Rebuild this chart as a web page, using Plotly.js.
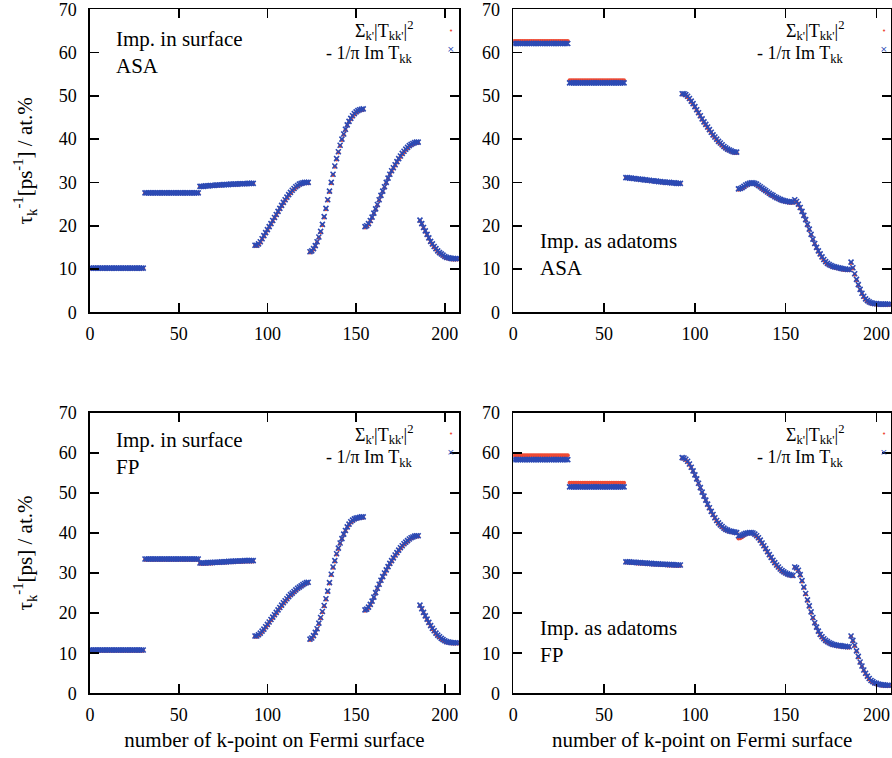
<!DOCTYPE html>
<html>
<head>
<meta charset="utf-8">
<script src="https://cdn.plot.ly/plotly-3.0.1.min.js"></script>
<style>html,body{margin:0;padding:0;background:#fff;}#chart{width:892px;height:758px;}</style>
</head>
<body>
<div id="chart"></div>
<script>
// ---------------- DATA ----------------
// k-point index on the Fermi surface: 0 .. 207
const N_K = 208;

const xTicks = [0, 50, 100, 150, 200];
const yTicks = [0, 10, 20, 30, 40, 50, 60, 70];

const seriesNames = ["Σ<sub>k'</sub>|T<sub>kk'</sub>|<sup>2</sup>", "- 1/π Im T<sub>kk</sub>"];
const panelLabels = ["Imp. in surface<br>ASA", "Imp. as adatoms<br>ASA", "Imp. in surface<br>FP", "Imp. as adatoms<br>FP"];
const yTitles = ["τ<sub>k</sub><sup>-1</sup>[ps<sup>-1</sup>] / at.%", "τ<sub>k</sub><sup>-1</sup>[ps] / at.%"];
const xTitle = "number of k-point on Fermi surface";

// Top-left: Imp. in surface, ASA
const tlBlue = [
10.2,10.2,10.2,10.2,10.2,10.2,10.2,10.2,10.2,10.2,10.2,10.2,10.2,10.2,10.2,10.2,10.2,10.2,10.2,10.2,10.2,10.2,10.2,10.2,10.2,10.2,10.2,10.2,10.2,10.2,10.2,
27.6,27.6,27.6,27.6,27.6,27.6,27.6,27.6,27.6,27.6,27.6,27.6,27.6,27.6,27.6,27.6,27.6,27.6,27.6,27.6,27.6,27.6,27.6,27.6,27.6,27.6,27.6,27.6,27.6,27.6,27.6,
29.1,29.1,29.1,29.2,29.2,29.2,29.3,29.3,29.3,29.4,29.4,29.4,29.4,29.5,29.5,29.5,29.5,29.6,29.6,29.6,29.6,29.6,29.7,29.7,29.7,29.7,29.7,29.8,29.8,29.8,29.8,
15.5,15.5,15.8,16.3,17.0,17.7,18.4,19.1,19.8,20.5,21.2,21.9,22.6,23.3,24.0,24.7,25.4,26.0,26.6,27.2,27.7,28.2,28.6,29.0,29.3,29.6,29.8,29.9,30.0,30.0,30.0,
14.0,14.2,14.7,15.4,16.3,17.4,18.7,20.3,22.1,24.0,26.0,28.0,30.0,31.9,33.8,35.5,37.1,38.6,40.0,41.2,42.3,43.3,44.1,44.8,45.4,45.9,46.3,46.6,46.8,46.9,47.0,
19.8,20.0,20.5,21.2,22.0,22.9,23.9,24.9,26.0,27.0,28.0,29.0,30.0,31.0,31.9,32.7,33.4,34.1,34.8,35.5,36.1,36.7,37.2,37.7,38.1,38.5,38.8,39.0,39.2,39.3,39.3,
21.3,20.5,19.6,18.8,18.0,17.2,16.4,15.8,15.2,14.7,14.2,13.8,13.5,13.2,12.9,12.7,12.6,12.5,12.4,12.4,12.4,12.4
];
const tlRed = [
10.1,10.1,10.1,10.1,10.1,10.1,10.1,10.1,10.1,10.1,10.1,10.1,10.1,10.1,10.1,10.1,10.1,10.1,10.1,10.1,10.1,10.1,10.1,10.1,10.1,10.1,10.1,10.1,10.1,10.1,10.1,
27.5,27.5,27.5,27.5,27.5,27.5,27.5,27.5,27.5,27.5,27.5,27.5,27.5,27.5,27.5,27.5,27.5,27.5,27.5,27.5,27.5,27.5,27.5,27.5,27.5,27.5,27.5,27.5,27.5,27.5,27.5,
29.0,29.0,29.0,29.1,29.1,29.1,29.2,29.2,29.2,29.3,29.3,29.3,29.3,29.4,29.4,29.4,29.4,29.5,29.5,29.5,29.5,29.5,29.6,29.6,29.6,29.6,29.6,29.7,29.7,29.7,29.7,
15.3,15.3,15.6,16.1,16.8,17.5,18.2,18.9,19.6,20.3,21.0,21.7,22.4,23.1,23.8,24.5,25.2,25.8,26.4,27.0,27.5,28.0,28.4,28.8,29.1,29.4,29.6,29.7,29.8,29.8,29.8,
13.8,14.0,14.5,15.2,16.1,17.2,18.5,20.1,21.9,23.8,25.8,27.8,29.8,31.7,33.6,35.3,36.9,38.4,39.8,41.0,42.1,43.1,43.9,44.6,45.2,45.7,46.1,46.4,46.6,46.7,46.8,
19.6,19.8,20.3,21.0,21.8,22.7,23.7,24.7,25.8,26.8,27.8,28.8,29.8,30.8,31.7,32.5,33.2,33.9,34.6,35.3,35.9,36.5,37.0,37.5,37.9,38.3,38.6,38.8,39.0,39.1,39.1,
21.1,20.3,19.4,18.6,17.8,17.0,16.2,15.6,15.0,14.5,14.0,13.6,13.3,13.0,12.7,12.5,12.4,12.3,12.2,12.2,12.2,12.2
];

// Top-right: Imp. as adatoms, ASA
const trBlue = [
62.1,62.1,62.1,62.1,62.1,62.1,62.1,62.1,62.1,62.1,62.1,62.1,62.1,62.1,62.1,62.1,62.1,62.1,62.1,62.1,62.1,62.1,62.1,62.1,62.1,62.1,62.1,62.1,62.1,62.1,62.1,
53.0,53.0,53.0,53.0,53.0,53.0,53.0,53.0,53.0,53.0,53.0,53.0,53.0,53.0,53.0,53.0,53.0,53.0,53.0,53.0,53.0,53.0,53.0,53.0,53.0,53.0,53.0,53.0,53.0,53.0,53.0,
31.1,31.1,31.0,31.0,30.9,30.9,30.8,30.8,30.7,30.7,30.6,30.6,30.5,30.5,30.4,30.4,30.3,30.3,30.2,30.2,30.1,30.1,30.0,30.0,30.0,29.9,29.9,29.9,29.8,29.8,29.8,
50.5,50.5,50.3,49.9,49.4,48.8,48.2,47.5,46.8,46.1,45.4,44.7,44.0,43.4,42.8,42.2,41.6,41.0,40.5,40.0,39.5,39.1,38.7,38.3,38.0,37.7,37.5,37.3,37.1,37.0,37.0,
28.5,28.6,28.8,29.1,29.4,29.6,29.8,29.9,29.9,29.8,29.6,29.3,29.0,28.7,28.4,28.1,27.8,27.5,27.2,27.0,26.7,26.5,26.3,26.1,25.9,25.8,25.7,25.6,25.5,25.5,25.5,
26.0,25.6,25.0,24.2,23.3,22.4,21.4,20.3,19.2,18.0,16.9,15.9,15.0,14.2,13.5,12.8,12.2,11.7,11.3,11.0,10.8,10.6,10.5,10.4,10.3,10.2,10.1,10.0,10.0,9.9,9.9,
11.6,10.3,8.9,7.6,6.4,5.3,4.4,3.7,3.1,2.7,2.4,2.2,2.1,2.0,2.0,1.9,1.9,1.9,1.9,1.9,1.9,1.9
];
const trRed = [
62.7,62.7,62.7,62.7,62.7,62.7,62.7,62.7,62.7,62.7,62.7,62.7,62.7,62.7,62.7,62.7,62.7,62.7,62.7,62.7,62.7,62.7,62.7,62.7,62.7,62.7,62.7,62.7,62.7,62.7,62.7,
53.6,53.6,53.6,53.6,53.6,53.6,53.6,53.6,53.6,53.6,53.6,53.6,53.6,53.6,53.6,53.6,53.6,53.6,53.6,53.6,53.6,53.6,53.6,53.6,53.6,53.6,53.6,53.6,53.6,53.6,53.6,
31.0,31.0,30.9,30.9,30.8,30.8,30.7,30.7,30.6,30.6,30.5,30.5,30.4,30.4,30.3,30.3,30.2,30.2,30.1,30.1,30.0,30.0,29.9,29.9,29.9,29.8,29.8,29.8,29.7,29.7,29.7,
50.3,50.3,50.1,49.7,49.2,48.6,48.0,47.3,46.6,45.9,45.2,44.5,43.8,43.2,42.6,42.0,41.4,40.8,40.3,39.8,39.3,38.9,38.5,38.1,37.8,37.5,37.3,37.1,36.9,36.8,36.8,
28.3,28.4,28.6,28.9,29.2,29.4,29.6,29.7,29.7,29.6,29.4,29.1,28.8,28.5,28.2,27.9,27.6,27.3,27.0,26.8,26.5,26.3,26.1,25.9,25.7,25.6,25.5,25.4,25.3,25.3,25.3,
25.8,25.4,24.8,24.0,23.1,22.2,21.2,20.1,19.0,17.8,16.7,15.7,14.8,14.0,13.3,12.6,12.0,11.5,11.1,10.8,10.6,10.4,10.3,10.2,10.1,10.0,9.9,9.8,9.8,9.7,9.7,
11.4,10.1,8.7,7.4,6.2,5.1,4.2,3.5,2.9,2.5,2.2,2.0,1.9,1.8,1.8,1.7,1.7,1.7,1.7,1.7,1.7,1.7
];

// Bottom-left: Imp. in surface, FP
const blBlue = [
10.8,10.8,10.8,10.8,10.8,10.8,10.8,10.8,10.8,10.8,10.8,10.8,10.8,10.8,10.8,10.8,10.8,10.8,10.8,10.8,10.8,10.8,10.8,10.8,10.8,10.8,10.8,10.8,10.8,10.8,10.8,
33.5,33.5,33.5,33.5,33.5,33.5,33.5,33.5,33.5,33.5,33.5,33.5,33.5,33.5,33.5,33.5,33.5,33.5,33.5,33.5,33.5,33.5,33.5,33.5,33.5,33.5,33.5,33.5,33.5,33.5,33.5,
32.5,32.5,32.5,32.5,32.6,32.6,32.6,32.6,32.7,32.7,32.7,32.7,32.8,32.8,32.8,32.8,32.9,32.9,32.9,32.9,33.0,33.0,33.0,33.0,33.0,33.1,33.1,33.1,33.1,33.1,33.1,
14.3,14.3,14.6,15.0,15.5,16.0,16.6,17.2,17.8,18.4,19.0,19.6,20.2,20.8,21.4,22.0,22.6,23.1,23.6,24.1,24.6,25.0,25.4,25.8,26.2,26.5,26.8,27.1,27.4,27.6,27.7,
13.5,13.8,14.4,15.2,16.1,17.5,18.9,20.4,21.9,23.6,25.5,27.6,29.7,31.5,33.1,34.8,36.2,37.5,38.6,39.7,40.6,41.5,42.2,42.8,43.2,43.5,43.7,43.8,43.9,44.0,44.0,
20.8,21.0,21.5,22.2,23.0,24.0,25.1,26.2,27.2,28.2,29.1,30.0,30.8,31.6,32.4,33.1,33.8,34.5,35.1,35.7,36.3,36.8,37.3,37.7,38.1,38.5,38.8,39.0,39.2,39.3,39.3,
22.0,21.1,20.2,19.3,18.5,17.7,16.9,16.2,15.6,15.0,14.5,14.1,13.7,13.4,13.1,12.9,12.8,12.7,12.6,12.6,12.6,12.6
];
const blRed = [
10.6,10.6,10.6,10.6,10.6,10.6,10.6,10.6,10.6,10.6,10.6,10.6,10.6,10.6,10.6,10.6,10.6,10.6,10.6,10.6,10.6,10.6,10.6,10.6,10.6,10.6,10.6,10.6,10.6,10.6,10.6,
33.3,33.3,33.3,33.3,33.3,33.3,33.3,33.3,33.3,33.3,33.3,33.3,33.3,33.3,33.3,33.3,33.3,33.3,33.3,33.3,33.3,33.3,33.3,33.3,33.3,33.3,33.3,33.3,33.3,33.3,33.3,
32.3,32.3,32.3,32.3,32.4,32.4,32.4,32.4,32.5,32.5,32.5,32.5,32.6,32.6,32.6,32.6,32.7,32.7,32.7,32.7,32.8,32.8,32.8,32.8,32.8,32.9,32.9,32.9,32.9,32.9,32.9,
14.1,14.1,14.4,14.8,15.3,15.8,16.4,17.0,17.6,18.2,18.8,19.4,20.0,20.6,21.2,21.8,22.4,22.9,23.4,23.9,24.4,24.8,25.2,25.6,26.0,26.3,26.6,26.9,27.2,27.4,27.5,
13.3,13.6,14.2,15.0,15.9,17.3,18.7,20.2,21.7,23.4,25.3,27.4,29.5,31.3,32.9,34.6,36.0,37.3,38.4,39.5,40.4,41.3,42.0,42.6,43.0,43.3,43.5,43.6,43.7,43.8,43.8,
20.6,20.8,21.3,22.0,22.8,23.8,24.9,26.0,27.0,28.0,28.9,29.8,30.6,31.4,32.2,32.9,33.6,34.3,34.9,35.5,36.1,36.6,37.1,37.5,37.9,38.3,38.6,38.8,39.0,39.1,39.1,
21.8,20.9,20.0,19.1,18.3,17.5,16.7,16.0,15.4,14.8,14.3,13.9,13.5,13.2,12.9,12.7,12.6,12.5,12.4,12.4,12.4,12.4
];

// Bottom-right: Imp. as adatoms, FP
const brBlue = [
58.3,58.3,58.3,58.3,58.3,58.3,58.3,58.3,58.3,58.3,58.3,58.3,58.3,58.3,58.3,58.3,58.3,58.3,58.3,58.3,58.3,58.3,58.3,58.3,58.3,58.3,58.3,58.3,58.3,58.3,58.3,
51.5,51.5,51.5,51.5,51.5,51.5,51.5,51.5,51.5,51.5,51.5,51.5,51.5,51.5,51.5,51.5,51.5,51.5,51.5,51.5,51.5,51.5,51.5,51.5,51.5,51.5,51.5,51.5,51.5,51.5,51.5,
32.8,32.8,32.8,32.7,32.7,32.7,32.6,32.6,32.6,32.5,32.5,32.5,32.4,32.4,32.4,32.3,32.3,32.3,32.3,32.2,32.2,32.2,32.2,32.1,32.1,32.1,32.1,32.0,32.0,32.0,32.0,
58.8,58.7,58.4,57.9,57.2,56.4,55.5,54.5,53.5,52.4,51.3,50.2,49.2,48.2,47.2,46.3,45.4,44.6,43.8,43.1,42.5,42.0,41.6,41.2,40.9,40.7,40.5,40.4,40.3,40.2,40.1,
39.3,39.3,39.5,39.7,39.9,40.0,40.1,40.1,40.0,39.7,39.3,38.8,38.2,37.5,36.8,36.1,35.3,34.6,33.9,33.2,32.6,32.0,31.5,31.0,30.6,30.3,30.0,29.8,29.6,29.5,29.4,
31.5,31.3,30.7,29.6,28.1,26.5,24.9,23.3,21.8,20.3,18.9,17.6,16.5,15.5,14.7,14.1,13.6,13.2,12.9,12.6,12.4,12.2,12.1,12.0,11.9,11.9,11.8,11.7,11.7,11.6,11.6,
14.3,13.2,12.0,10.6,9.2,7.8,6.8,5.8,5.0,4.3,3.7,3.2,2.9,2.6,2.5,2.3,2.2,2.1,2.1,2.0,2.0,2.0
];
const brRed = [
59.4,59.4,59.4,59.4,59.4,59.4,59.4,59.4,59.4,59.4,59.4,59.4,59.4,59.4,59.4,59.4,59.4,59.4,59.4,59.4,59.4,59.4,59.4,59.4,59.4,59.4,59.4,59.4,59.4,59.4,59.4,
52.5,52.5,52.5,52.5,52.5,52.5,52.5,52.5,52.5,52.5,52.5,52.5,52.5,52.5,52.5,52.5,52.5,52.5,52.5,52.5,52.5,52.5,52.5,52.5,52.5,52.5,52.5,52.5,52.5,52.5,52.5,
32.6,32.6,32.6,32.5,32.5,32.5,32.4,32.4,32.4,32.3,32.3,32.3,32.2,32.2,32.2,32.1,32.1,32.1,32.1,32.0,32.0,32.0,32.0,31.9,31.9,31.9,31.9,31.8,31.8,31.8,31.8,
58.6,58.5,58.2,57.7,57.0,56.2,55.3,54.3,53.3,52.2,51.1,50.0,49.0,48.0,47.0,46.1,45.2,44.4,43.6,42.9,42.3,41.8,41.4,41.0,40.7,40.5,40.3,40.2,40.1,40.0,39.9,
38.6,38.7,38.9,39.3,39.6,39.8,39.9,39.9,39.8,39.5,39.1,38.6,38.0,37.3,36.6,35.9,35.1,34.4,33.7,33.0,32.4,31.8,31.3,30.8,30.4,30.1,29.8,29.6,29.4,29.3,29.2,
31.3,31.1,30.5,29.4,27.9,26.3,24.7,23.1,21.6,20.1,18.7,17.4,16.3,15.3,14.5,13.9,13.4,13.0,12.7,12.4,12.2,12.0,11.9,11.8,11.7,11.7,11.6,11.5,11.5,11.4,11.4,
14.1,13.0,11.8,10.4,9.0,7.6,6.6,5.6,4.8,4.1,3.5,3.0,2.7,2.4,2.3,2.1,2.0,1.9,1.9,1.8,1.8,1.8
];

// ---------------- CHART ----------------
const kIndex = [];
for (let i = 0; i < N_K; i++) kIndex.push(i);

const panels = [
  {red: tlRed, blue: tlBlue, xa: 'x',  ya: 'y'},
  {red: trRed, blue: trBlue, xa: 'x2', ya: 'y2'},
  {red: blRed, blue: blBlue, xa: 'x3', ya: 'y3'},
  {red: brRed, blue: brBlue, xa: 'x4', ya: 'y4'}
];
panels.forEach((p, i) => {
  if (p.red.length !== N_K || p.blue.length !== N_K) {
    throw new Error('panel ' + i + ' lengths ' + p.red.length + ' ' + p.blue.length);
  }
});

const RED = '#ee4a34';
const BLUE = '#2c4ab4';
const FONT = 'Liberation Serif, Times New Roman, serif';

const traces = [];
panels.forEach(p => {
  traces.push({x: kIndex, y: p.red, xaxis: p.xa, yaxis: p.ya, type: 'scatter', mode: 'markers',
    name: seriesNames[0], showlegend: false, hoverinfo: 'skip',
    marker: {symbol: 'circle', size: 4, color: RED}});
  traces.push({x: kIndex, y: p.blue, xaxis: p.xa, yaxis: p.ya, type: 'scatter', mode: 'markers',
    name: seriesNames[1], showlegend: false, hoverinfo: 'skip',
    marker: {symbol: 'x-thin', size: 5, color: BLUE, line: {width: 1.6, color: BLUE}}});
});

const W = 892, H = 758;
const px = v => v / W;
const py = v => 1 - v / H;

function xax(domain, showTitle) {
  return {
    domain: domain, range: [0, 208], tickvals: xTicks, ticktext: xTicks.map(String),
    showline: true, linecolor: '#000', linewidth: 1.6, mirror: 'ticks',
    ticks: 'inside', ticklen: 9, tickwidth: 1.6, tickcolor: '#000',
    showgrid: false, zeroline: false, ticklabelstandoff: 4, ticklabeloverflow: 'allow',
    tickfont: {family: FONT, size: 18, color: '#000'},
    title: showTitle ? {text: xTitle, font: {family: FONT, size: 21, color: '#000'}, standoff: 9} : {text: ''}
  };
}
function yax(domain, anchor, titleText) {
  return {
    domain: domain, range: [0, 70], tickvals: yTicks, ticktext: yTicks.map(String), anchor: anchor,
    showline: true, linecolor: '#000', linewidth: 1.6, mirror: 'ticks',
    ticks: 'inside', ticklen: 9, tickwidth: 1.6, tickcolor: '#000',
    showgrid: false, zeroline: false, ticklabelstandoff: 8, ticklabeloverflow: 'allow',
    tickfont: {family: FONT, size: 18, color: '#000'},
    title: titleText ? {text: titleText, font: {family: FONT, size: 21, color: '#000'}, standoff: 20} : {text: ''}
  };
}

const leftDom = [px(90), px(459)];
const rightDom = [px(513.3), px(891)];
const topDom = [py(312.3), py(9.3)];
const botDom = [py(693.3), py(412.7)];

const annotations = [];
function panelAnn(text, xLeft, yTop) {
  annotations.push({xref: 'paper', yref: 'paper', x: px(xLeft), y: py(yTop), xanchor: 'left', yanchor: 'top',
    text: text, showarrow: false, align: 'left', font: {family: FONT, size: 21, color: '#000'}});
}
function legendAnn(xRight, xSym, y0) {
  annotations.push({xref: 'paper', yref: 'paper', x: px(xRight), y: py(y0), xanchor: 'right', yanchor: 'middle',
    text: seriesNames[0], showarrow: false, font: {family: FONT, size: 18, color: '#000'}});
  annotations.push({xref: 'paper', yref: 'paper', x: px(xRight), y: py(y0 + 24), xanchor: 'right', yanchor: 'middle',
    text: seriesNames[1], showarrow: false, font: {family: FONT, size: 18, color: '#000'}});
  annotations.push({xref: 'paper', yref: 'paper', x: px(xSym), y: py(y0), xanchor: 'center', yanchor: 'middle',
    text: '•', showarrow: false, font: {family: 'DejaVu Sans', size: 7, color: RED}});
  annotations.push({xref: 'paper', yref: 'paper', x: px(xSym), y: py(y0 + 18), xanchor: 'center', yanchor: 'middle',
    text: '×', showarrow: false, font: {family: 'DejaVu Sans', size: 9, color: BLUE}});
}
panelAnn(panelLabels[0], 114, 25);
panelAnn(panelLabels[1], 538, 227);
panelAnn(panelLabels[2], 114, 426);
panelAnn(panelLabels[3], 538, 614);
legendAnn(415, 451, 31);
legendAnn(846, 884, 31);
legendAnn(415, 451, 434);
legendAnn(846, 884, 434);

const layout = {
  width: W, height: H,
  margin: {l: 0, r: 0, t: 0, b: 0},
  paper_bgcolor: '#fff', plot_bgcolor: '#fff',
  showlegend: false,
  font: {family: FONT, color: '#000'},
  xaxis: Object.assign(xax(leftDom, false), {anchor: 'y'}),
  yaxis: yax(topDom, 'x', yTitles[0]),
  xaxis2: Object.assign(xax(rightDom, false), {anchor: 'y2'}),
  yaxis2: yax(topDom, 'x2', null),
  xaxis3: Object.assign(xax(leftDom, true), {anchor: 'y3'}),
  yaxis3: yax(botDom, 'x3', yTitles[1]),
  xaxis4: Object.assign(xax(rightDom, true), {anchor: 'y4'}),
  yaxis4: yax(botDom, 'x4', null),
  annotations: annotations
};

Plotly.newPlot('chart', traces, layout, {staticPlot: true, displayModeBar: false});
</script>
</body>
</html>
